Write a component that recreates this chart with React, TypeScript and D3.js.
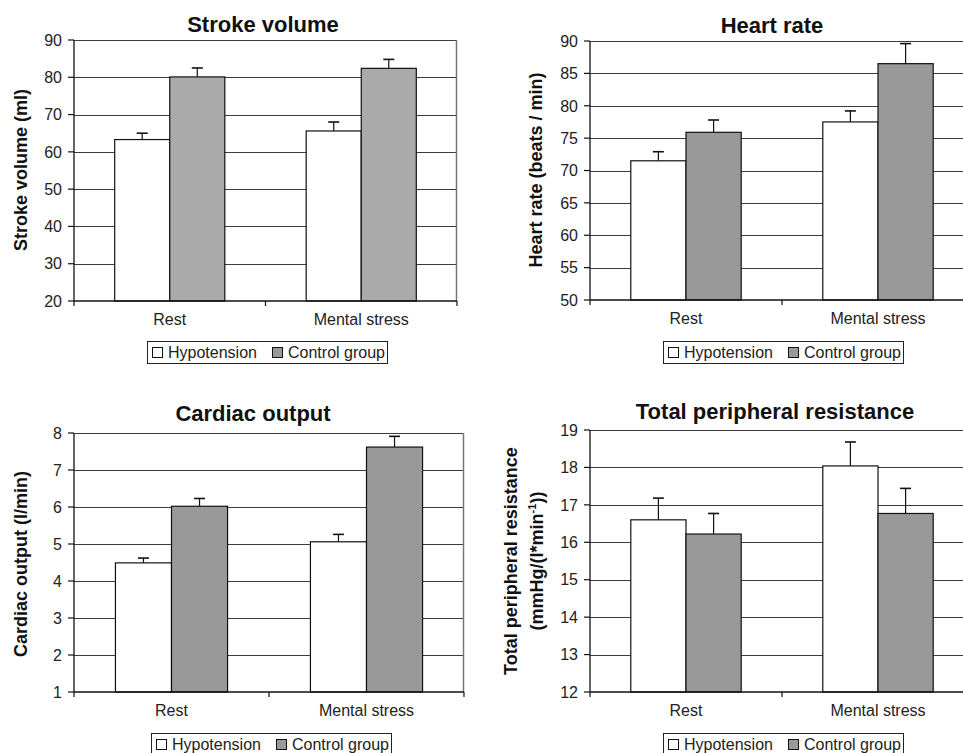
import React, { useRef, useEffect } from 'react';
import * as d3 from 'd3';

const categories = ['Rest', 'Mental stress'];
const seriesNames = ['Hypotension', 'Control group'];

// values (mean, and upward error bar)
const strokeHypo = [63.3, 65.6];
const strokeHypoErr = [1.7, 2.4];
const strokeCtrl = [80.1, 82.4];
const strokeCtrlErr = [2.4, 2.4];

const hrHypo = [71.5, 77.5];
const hrHypoErr = [1.4, 1.7];
const hrCtrl = [75.9, 86.5];
const hrCtrlErr = [1.9, 3.1];

const coHypo = [4.49, 5.06];
const coHypoErr = [0.13, 0.2];
const coCtrl = [6.02, 7.62];
const coCtrlErr = [0.21, 0.29];

const tprHypo = [16.6, 18.04];
const tprHypoErr = [0.58, 0.64];
const tprCtrl = [16.22, 16.77];
const tprCtrlErr = [0.55, 0.67];

const strokeTicks = [20, 30, 40, 50, 60, 70, 80, 90];
const hrTicks = [50, 55, 60, 65, 70, 75, 80, 85, 90];
const coTicks = [1, 2, 3, 4, 5, 6, 7, 8];
const tprTicks = [12, 13, 14, 15, 16, 17, 18, 19];

const FONT = '"Liberation Sans", Arial, Helvetica, sans-serif';

const panels = [
  {
    title: 'Stroke volume', titleX: 263, titleY: 32,
    yLabel: ['Stroke volume (ml)'], yLabelX: [27], yLabelY: 170,
    left: 74, top: 40, right: 457, bottom: 301,
    ticks: strokeTicks,
    hypo: strokeHypo, hypoErr: strokeHypoErr, ctrl: strokeCtrl, ctrlErr: strokeCtrlErr,
    ctrlColor: '#aaaaaa', legendX: 147, legendY: 341,
  },
  {
    title: 'Heart rate', titleX: 772, titleY: 33,
    yLabel: ['Heart rate (beats / min)'], yLabelX: [542], yLabelY: 170,
    left: 590, top: 41, right: 974, bottom: 300,
    ticks: hrTicks,
    hypo: hrHypo, hypoErr: hrHypoErr, ctrl: hrCtrl, ctrlErr: hrCtrlErr,
    ctrlColor: '#999999', legendX: 663, legendY: 341,
  },
  {
    title: 'Cardiac output', titleX: 253, titleY: 421,
    yLabel: ['Cardiac output (l/min)'], yLabelX: [27], yLabelY: 564,
    left: 74, top: 433, right: 464, bottom: 692,
    ticks: coTicks,
    hypo: coHypo, hypoErr: coHypoErr, ctrl: coCtrl, ctrlErr: coCtrlErr,
    ctrlColor: '#999999', legendX: 151, legendY: 733,
  },
  {
    title: 'Total peripheral resistance', titleX: 775, titleY: 419,
    yLabel: ['Total peripheral resistance', '(mmHg/(l*min'], yLabelX: [517, 543], yLabelY: 561,
    left: 590, top: 430, right: 974, bottom: 692,
    ticks: tprTicks,
    hypo: tprHypo, hypoErr: tprHypoErr, ctrl: tprCtrl, ctrlErr: tprCtrlErr,
    ctrlColor: '#999999', legendX: 663, legendY: 733,
  },
];

export default function App() {
  const svgRef = useRef<SVGSVGElement>(null);

  useEffect(() => {
    if (!svgRef.current) return;
    const svg = d3.select(svgRef.current);
    svg.selectAll('*').remove();

    panels.forEach(p => {
      const g = svg.append('g').attr('font-family', FONT);
      const domain = [p.ticks[0], p.ticks[p.ticks.length - 1]];
      const y = d3.scaleLinear().domain(domain).range([p.bottom, p.top]);
      const x0 = d3.scaleBand().domain(categories).range([p.left, p.right]);
      const bw = x0.bandwidth();
      const x1 = d3.scaleBand().domain(seriesNames).range([bw * 0.2125, bw * 0.7875]);

      // gridlines
      p.ticks.slice(1).forEach(t => {
        g.append('line')
          .attr('x1', p.left).attr('x2', p.right)
          .attr('y1', Math.round(y(t)) + 0.5).attr('y2', Math.round(y(t)) + 0.5)
          .attr('stroke', '#3c3c3c').attr('stroke-width', 1);
      });
      // right border of plot area
      g.append('line')
        .attr('x1', p.right - 0.5).attr('x2', p.right - 0.5)
        .attr('y1', p.top).attr('y2', p.bottom)
        .attr('stroke', '#777').attr('stroke-width', 1.5);

      // bars
      const rows = [
        { name: seriesNames[0], vals: p.hypo, errs: p.hypoErr, color: '#ffffff' },
        { name: seriesNames[1], vals: p.ctrl, errs: p.ctrlErr, color: p.ctrlColor },
      ];
      rows.forEach(s => {
        categories.forEach((c, i) => {
          const bx = (x0(c) as number) + (x1(s.name) as number);
          const w = x1.bandwidth();
          const v = s.vals[i];
          const cx = bx + w / 2;
          // error bar (up only)
          g.append('line')
            .attr('x1', cx).attr('x2', cx)
            .attr('y1', y(v)).attr('y2', y(v + s.errs[i]))
            .attr('stroke', '#111').attr('stroke-width', 1.2);
          g.append('line')
            .attr('x1', cx - 5.5).attr('x2', cx + 5.5)
            .attr('y1', y(v + s.errs[i])).attr('y2', y(v + s.errs[i]))
            .attr('stroke', '#111').attr('stroke-width', 1.6);
          g.append('rect')
            .attr('x', bx).attr('y', y(v))
            .attr('width', w).attr('height', p.bottom - y(v))
            .attr('fill', s.color)
            .attr('stroke', '#111').attr('stroke-width', 1.2);
        });
      });

      // y axis
      g.append('line')
        .attr('x1', p.left).attr('x2', p.left)
        .attr('y1', p.top).attr('y2', p.bottom)
        .attr('stroke', '#111').attr('stroke-width', 1.3);
      p.ticks.forEach(t => {
        g.append('line')
          .attr('x1', p.left - 6).attr('x2', p.left)
          .attr('y1', y(t)).attr('y2', y(t))
          .attr('stroke', '#111').attr('stroke-width', 1.2);
        g.append('text')
          .attr('x', p.left - 12).attr('y', y(t)).attr('dy', '0.36em')
          .attr('text-anchor', 'end').attr('font-size', 16).attr('fill', '#222')
          .text(String(t));
      });

      // x axis
      g.append('line')
        .attr('x1', p.left).attr('x2', p.right)
        .attr('y1', p.bottom).attr('y2', p.bottom)
        .attr('stroke', '#111').attr('stroke-width', 1.3);
      [p.left, (x0(categories[1]) as number), p.right].forEach(tx => {
        g.append('line')
          .attr('x1', tx).attr('x2', tx)
          .attr('y1', p.bottom).attr('y2', p.bottom + 5)
          .attr('stroke', '#111').attr('stroke-width', 1.2);
      });
      categories.forEach(c => {
        g.append('text')
          .attr('x', (x0(c) as number) + bw / 2).attr('y', p.bottom + 24)
          .attr('text-anchor', 'middle').attr('font-size', 16).attr('fill', '#222')
          .text(c);
      });

      // title
      g.append('text')
        .attr('x', p.titleX).attr('y', p.titleY)
        .attr('text-anchor', 'middle').attr('font-size', 22).attr('font-weight', 'bold')
        .attr('fill', '#111')
        .text(p.title);

      // y label
      p.yLabel.forEach((lbl, k) => {
        const t = g.append('text')
          .attr('transform', `translate(${p.yLabelX[k]},${p.yLabelY}) rotate(-90)`)
          .attr('text-anchor', 'middle').attr('font-size', 18).attr('font-weight', 'bold')
          .attr('fill', '#111');
        if (k === 1) {
          t.append('tspan').text(lbl);
          t.append('tspan').attr('font-size', 11).attr('dy', -7).text('-1');
          t.append('tspan').attr('dy', 7).text('))');
        } else {
          t.text(lbl);
        }
      });

      // legend
      const lg = g.append('g').attr('transform', `translate(${p.legendX},${p.legendY})`);
      lg.append('rect')
        .attr('x', 0.5).attr('y', 0.5).attr('width', 240).attr('height', 22)
        .attr('fill', '#fff').attr('stroke', '#222').attr('stroke-width', 1);
      [
        { name: seriesNames[0], color: '#ffffff', sx: 5, tx: 21 },
        { name: seriesNames[1], color: '#999999', sx: 125, tx: 141 },
      ].forEach(item => {
        lg.append('rect')
          .attr('x', item.sx + 0.5).attr('y', 6.5).attr('width', 10).attr('height', 10)
          .attr('fill', item.color).attr('stroke', '#111').attr('stroke-width', 1);
        lg.append('text')
          .attr('x', item.tx).attr('y', 16.5)
          .attr('font-size', 16).attr('fill', '#222')
          .text(item.name);
      });
    });
  }, []);

  return (
    <div style={{ position: 'absolute', left: 0, top: 0 }}>
      <svg ref={svgRef} width={963} height={753} style={{ display: 'block', background: '#fff' }} />
    </div>
  );
}
